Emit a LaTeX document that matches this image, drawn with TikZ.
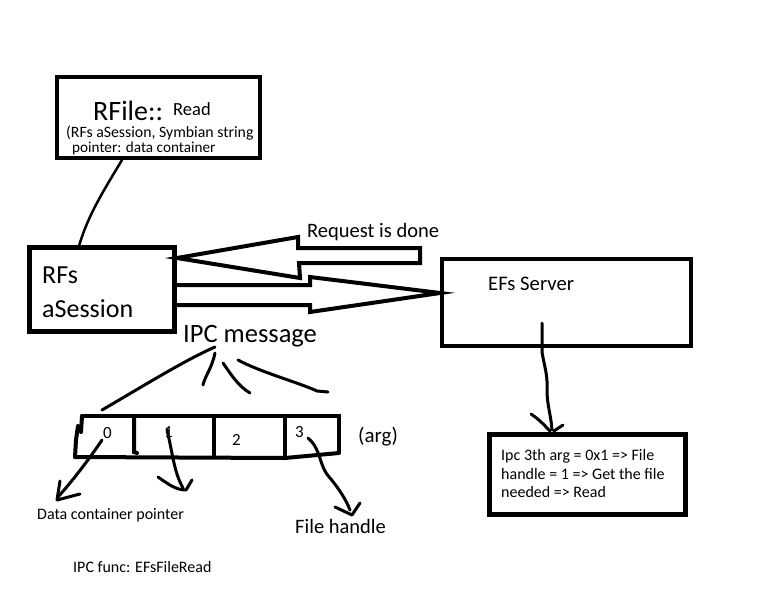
\documentclass[tikz,border=0pt]{standalone}
\usepackage{fontspec}
\setmainfont{Carlito}
\newcommand{\fs}[1]{\fontsize{#1}{#1}\selectfont}
\begin{document}
\begin{tikzpicture}[x=1pt,y=-1pt,
  box/.style={draw, line width=4pt, inner sep=0pt},
  hand/.style={line width=3pt, line cap=round, line join=round},
  blockarrow/.style={line width=4pt, line join=miter},
  txt/.style={inner sep=0pt, anchor=base west}]
\useasboundingbox (0,0) rectangle (772,590);
\fill[white] (0,0) rectangle (772,590);

% boxes
\node[box, minimum width=203pt, minimum height=81pt] (rfile) at (158.5,117.5) {};
\node[box, line width=5pt, minimum width=145pt, minimum height=84pt] (session) at (102,289.5) {};
\node[box, minimum width=249pt, minimum height=87pt] (server) at (566.5,302.5) {};
\node[box, line width=5pt, minimum width=196pt, minimum height=80pt] (info) at (587.5,474.5) {};

% texts in boxes
\node[txt, font=\fs{28}] (rfiletitle) at (93,120) {RFile::};
\node[txt, font=\fs{18.5}] (rfileread) at (173,115) {Read};
\node[txt, font=\fs{15.8}] (rfileargs1) at (66,137) {(RFs aSession, Symbian string};
\node[txt, font=\fs{15.2}] (rfileargs2) at (72,152) {pointer: data container};
\node[txt, font=\fs{26}] (sess1) at (42,283) {RFs};
\node[txt, font=\fs{26}] (sess2) at (42,317) {aSession};
\node[txt, font=\fs{20.7}] (servertxt) at (488,290) {EFs Server};
\node[txt, font=\fs{16}] (info1) at (501,460) {Ipc 3th arg = 0x1 => File};
\node[txt, font=\fs{16}] (info2) at (501,479) {handle = 1 => Get the file};
\node[txt, font=\fs{16}] (info3) at (501,497) {needed => Read};

% rfile -> session line
\coordinate (c1) at (122,160);
\coordinate (c2) at (79,246);
\draw[hand, line width=2.5pt] (c1) .. controls (104,190) and (88,215) .. (c2);

% block arrows
\coordinate (reqtip) at (177,258);
\draw[blockarrow] (reqtip) -- (298,237) -- (298,248) -- (420,248) -- (420,263)
  -- (299,263) -- (300,278) -- cycle;
\node[txt, font=\fs{20.5}] (reqtxt) at (307,237) {Request is done};
\coordinate (sendtail) at (175,285);
\coordinate (sendtip) at (440,293);
\draw[blockarrow] (sendtail) -- (310,285) -- (310,277) -- (sendtip) -- (310,312)
  -- (310,305) -- (175,305);

% server -> info
\coordinate (s1) at (542,323);
\coordinate (i1) at (552,430);
\draw[hand] (s1) -- (542,352) .. controls (544,365) and (548,375) .. (547,390)
  .. controls (547,405) and (551,415) .. (i1);
\draw[hand] (531,414) .. controls (540,420) and (545,426) .. (550,431);
\draw[hand] (554,431) -- (563,425);

% IPC message
\node[txt, font=\fs{26.5}] (ipc) at (183,342) {IPC message};
\draw[hand] (215,347) .. controls (185,360) and (140,388) .. (102,410);
\draw[hand] (215,353) .. controls (212,368) and (205,376) .. (203,385);
\draw[hand] (223,363) .. controls (230,373) and (238,386) .. (250,393);
\draw[hand] (238,360) .. controls (260,372) and (300,383) .. (317,391) -- (328,392);

% array
\draw[line width=4pt, line cap=round] (82,416) -- (339,416) -- (339,452);
\draw[line width=4pt, line cap=round] (75,457) -- (285,458) -- (339,453);
\draw[line width=4pt, line cap=round] (82,416) -- (81,432);
\draw[line width=4pt, line cap=round] (78,426) -- (76,440) -- (75,457);
\draw[line width=4pt, line cap=round] (134,416) -- (134,452) -- (137,453);
\draw[line width=4pt] (214,416) -- (214,458);
\draw[line width=4pt] (285,416) -- (285,457);
\node[txt, font=\fs{17}] (d0) at (103,438) {0};
\node[txt, font=\fs{17}] (d1) at (164,437) {1};
\node[txt, font=\fs{17}] (d2) at (232,445) {2};
\node[txt, font=\fs{17}] (d3) at (295,437) {3};
\node[txt, font=\fs{21}] (arg) at (358,442) {(arg)};

% arrows from cells
\draw[hand] (102,440) .. controls (92,455) and (75,478) .. (58,497);
\draw[hand] (60,481) -- (57,500) -- (80,494);
\draw[hand] (167,430) .. controls (173,455) and (174,472) .. (183,488);
\draw[hand] (158,477) .. controls (168,484) and (176,490) .. (186,490) -- (192,480);
\draw[hand] (308,438) .. controls (322,450) and (318,465) .. (330,478)
  .. controls (340,490) and (346,500) .. (350,510);
\draw[hand] (335,507) -- (352,515) -- (360,503);

% labels below
\node[txt, font=\fs{16}] (dcp) at (37,519) {Data container pointer};
\node[txt, font=\fs{20.5}] (fh) at (295,533) {File handle};
\node[txt, font=\fs{16}] (func) at (73,572) {IPC func: EFsFileRead};
\end{tikzpicture}
\end{document}
